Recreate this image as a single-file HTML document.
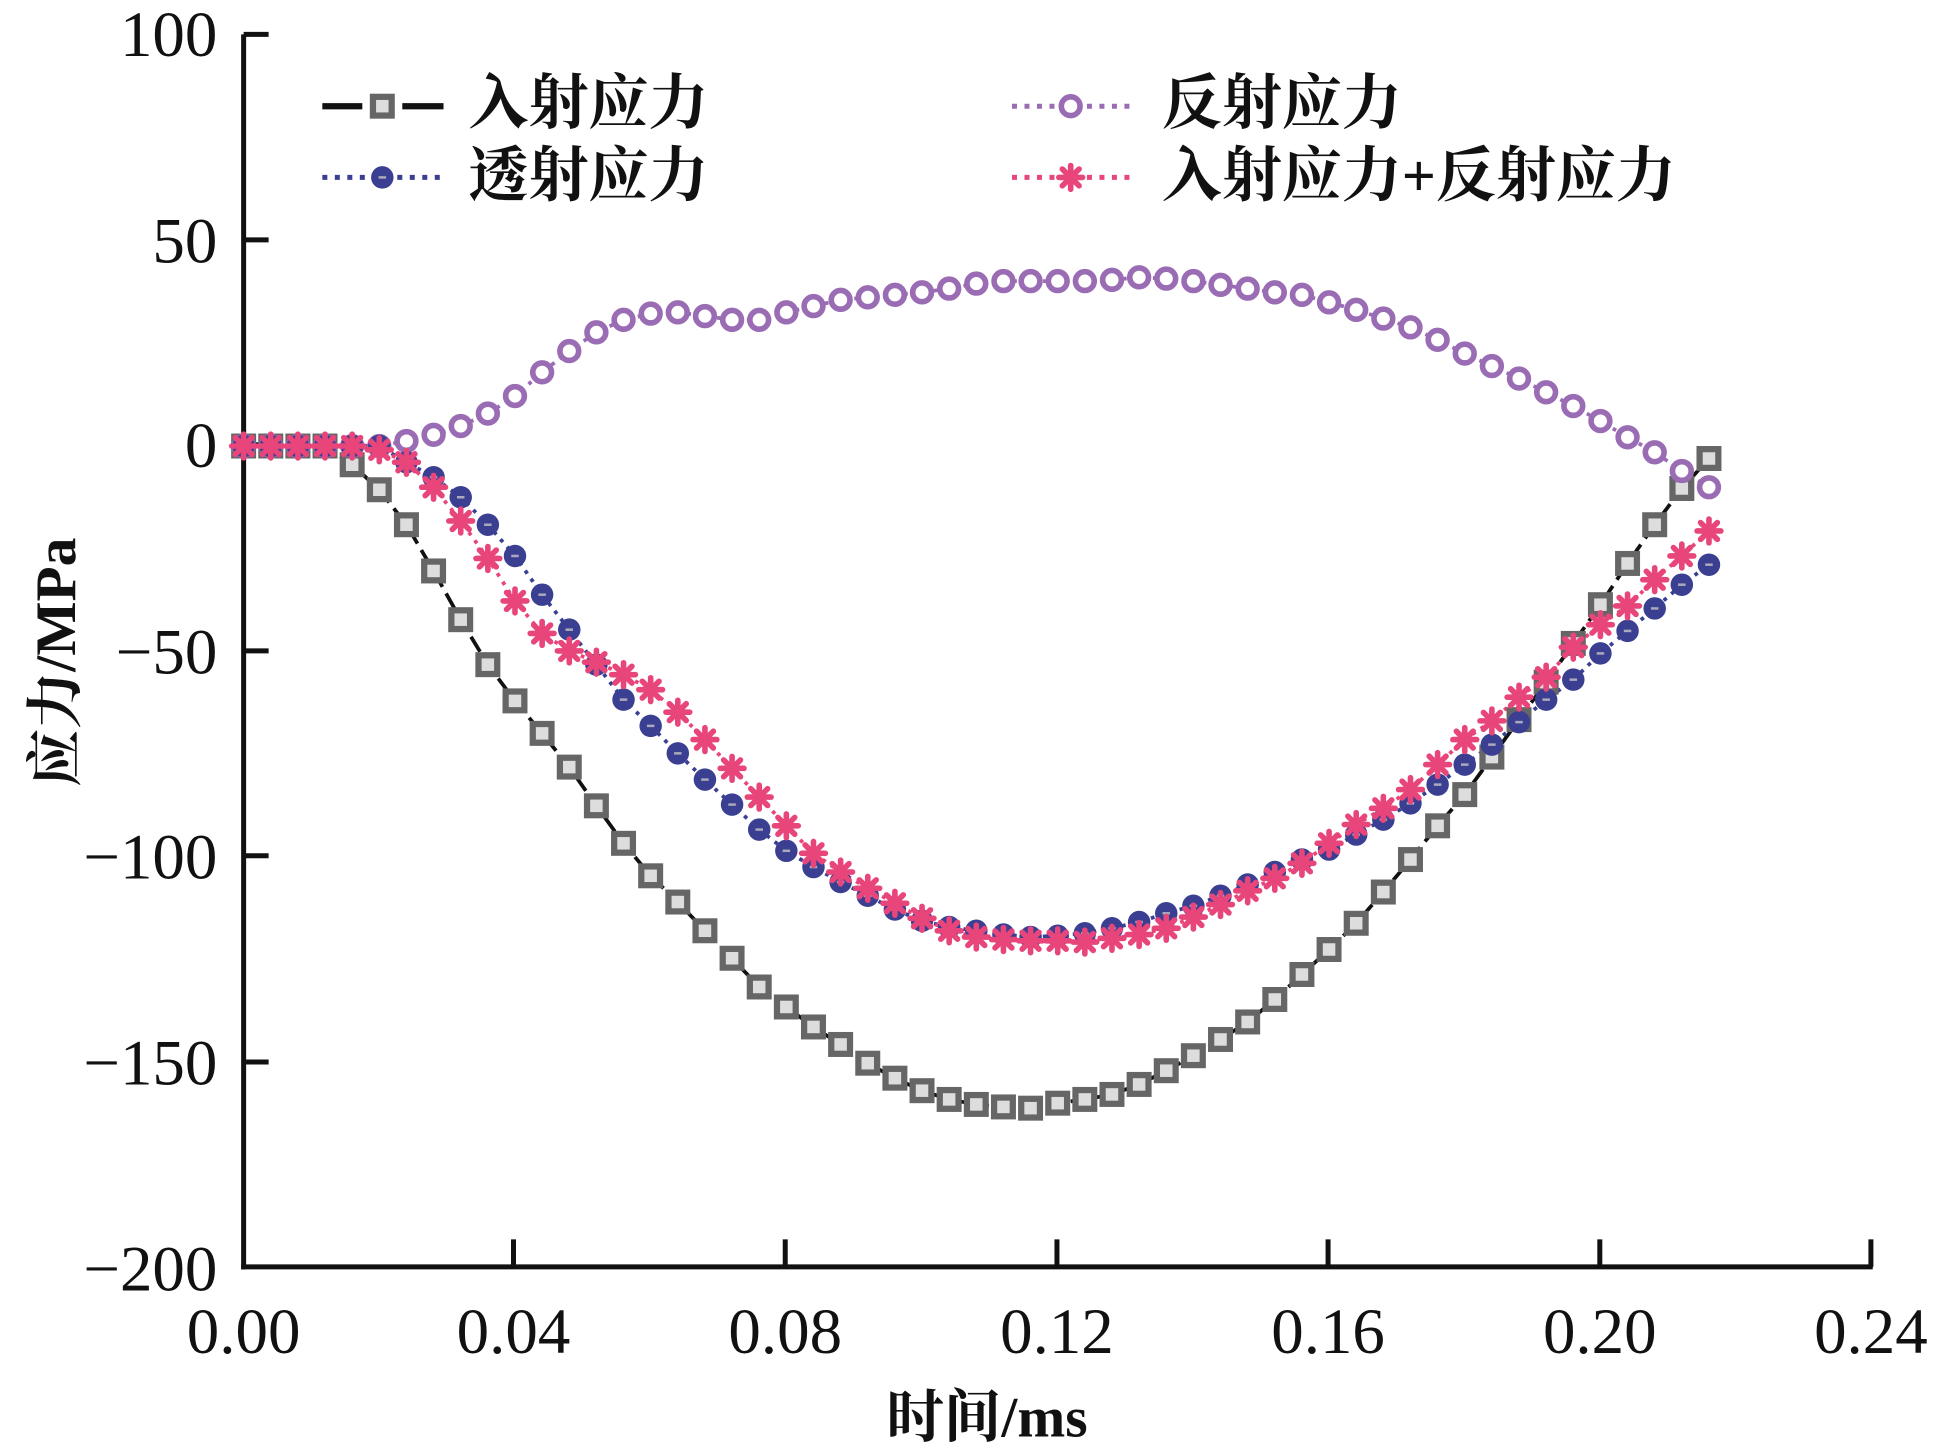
<!DOCTYPE html>
<html><head><meta charset="utf-8"><style>
html,body{margin:0;padding:0;background:#fff;}
svg{display:block;}
text{font-family:"Liberation Serif","Noto Serif CJK SC",serif;fill:#111;}
</style></head><body>
<svg id="s" width="1949" height="1446" viewBox="0 0 1560 1157.4" xmlns="http://www.w3.org/2000/svg">
<g stroke="#111" stroke-width="4" fill="none">
<line x1="195" y1="27.5" x2="195" y2="1016"/>
<line x1="193" y1="1014" x2="1499" y2="1014"/>
<line x1="195" y1="27.5" x2="215" y2="27.5"/>
<line x1="195" y1="192" x2="215" y2="192"/>
<line x1="195" y1="356" x2="215" y2="356"/>
<line x1="195" y1="521" x2="215" y2="521"/>
<line x1="195" y1="685" x2="215" y2="685"/>
<line x1="195" y1="850" x2="215" y2="850"/>
<line x1="411" y1="1014" x2="411" y2="992"/>
<line x1="628.5" y1="1014" x2="628.5" y2="992"/>
<line x1="846" y1="1014" x2="846" y2="992"/>
<line x1="1063" y1="1014" x2="1063" y2="992"/>
<line x1="1280.5" y1="1014" x2="1280.5" y2="992"/>
<line x1="1497.5" y1="1014" x2="1497.5" y2="992"/>
</g>
<g font-size="52" text-anchor="end">
<text x="174" y="45">100</text>
<text x="174" y="210">50</text>
<text x="174" y="374">0</text>
<text x="174" y="539">−50</text>
<text x="174" y="703">−100</text>
<text x="174" y="868">−150</text>
<text x="174" y="1033">−200</text>
</g>
<g font-size="52" text-anchor="middle">
<text x="195" y="1083">0.00</text>
<text x="411" y="1083">0.04</text>
<text x="628.5" y="1083">0.08</text>
<text x="846" y="1083">0.12</text>
<text x="1063" y="1083">0.16</text>
<text x="1280.5" y="1083">0.20</text>
<text x="1497.5" y="1083">0.24</text>
</g>
<text x="790" y="1150" font-size="46" text-anchor="middle" font-weight="bold">时间/ms</text>
<text transform="translate(60,530) rotate(-90)" font-size="46" text-anchor="middle" font-weight="bold">应力/MPa</text>
<g id="plot"></g>
<g id="leg" font-size="48" font-weight="bold">
<text x="375" y="99">入射应力</text>
<text x="375" y="157">透射应力</text>
<text x="930" y="99">反射应力</text>
<text x="930" y="157">入射应力+反射应力</text>
</g>
</svg>
<script>
var xs=[];for(var i=0;i<55;i++)xs.push(195+i*21.72);
var inc=[357,357,357,357,372,392,420,457,496,532,561,587,614,645,675,701,722,745,767,790,806,822,836,851,863,873,880,884,886,887,883,880,876,868,857,845,832,818,800,780,760,739,714,688,661,636,606,576,546,515,484,451,420,391,367];
var ref=[357,357,357,357,357,357,353,348,341,331,317,298,281,266,256,251,250,253,256,256,250,245,240,238,236,234,231,227,225,225,225,225,224,222,223,225,228,231,234,236,242,248,255,262,272,283,293,303,314,325,337,350,362,377,390];
var tra=[357,357,357,357,357,357,370,382,398,420,445,476,504,532,560,581,603,624,644,664,681,694,706,717,728,737,742,745,748,750,749,747,743,738,731,725,717,708,698,688,680,668,656,643,628,612,596,578,560,544,523,505,487,468,452];
var sum=[357,357,357,357,357,360,370,390,417,447,481,507,521,530,540,552,570,592,615,638,661,683,698,711,723,735,745,750,752,753,753,754,751,748,743,734,724,713,703,691,675,660,647,632,612,592,577,558,542,518,500,485,464,445,425];
var NS="http://www.w3.org/2000/svg",g=document.getElementById('plot'),lg=document.getElementById('leg');
function el(p,t,a){var e=document.createElementNS(NS,t);for(var k in a)e.setAttribute(k,a[k]);p.appendChild(e);return e;}
function pts(ys){return ys.map(function(y,i){return xs[i]+','+y}).join(' ');}
function sq(p,x,y){el(p,'rect',{x:x-7.5,y:y-7.5,width:15,height:15,fill:'#ddd',stroke:'#666','stroke-width':5});}
function oc(p,x,y){el(p,'circle',{cx:x,cy:y,r:7.5,fill:'#fff',stroke:'#9a6cb4','stroke-width':4.5});}
function bc(p,x,y){el(p,'circle',{cx:x,cy:y,r:9,fill:'#3a3f92'});el(p,'line',{x1:x-3,y1:y,x2:x+3,y2:y,stroke:'#aab','stroke-width':2});}
function st(p,x,y){var a=el(p,'g',{stroke:'#e8457a','stroke-width':4.5,'stroke-linecap':'round'});
 for(var k=0;k<4;k++){var an=k*Math.PI/4,dx=9.5*Math.cos(an),dy=9.5*Math.sin(an);el(a,'line',{x1:x-dx,y1:y-dy,x2:x+dx,y2:y+dy});}}
el(g,'polyline',{points:pts(inc),fill:'none',stroke:'#111','stroke-width':3,'stroke-dasharray':'14 6'});
el(g,'polyline',{points:pts(ref),fill:'none',stroke:'#9a6cb4','stroke-width':3,'stroke-dasharray':'3 5'});
el(g,'polyline',{points:pts(tra),fill:'none',stroke:'#3a3f92','stroke-width':3,'stroke-dasharray':'3 5'});
el(g,'polyline',{points:pts(sum),fill:'none',stroke:'#e8457a','stroke-width':3,'stroke-dasharray':'3 5'});
for(var i=0;i<55;i++){sq(g,xs[i],inc[i]);}
for(var i=0;i<55;i++){oc(g,xs[i],ref[i]);}
for(var i=0;i<55;i++){bc(g,xs[i],tra[i]);}
for(var i=0;i<55;i++){st(g,xs[i],sum[i]);}
el(lg,'line',{x1:258,y1:85,x2:290,y2:85,stroke:'#111','stroke-width':5});
el(lg,'line',{x1:322,y1:85,x2:355,y2:85,stroke:'#111','stroke-width':5});sq(lg,306,85);
el(lg,'line',{x1:258,y1:142,x2:355,y2:142,stroke:'#3a3f92','stroke-width':4,'stroke-dasharray':'4 6'});bc(lg,306,142);
el(lg,'line',{x1:810,y1:85,x2:905,y2:85,stroke:'#9a6cb4','stroke-width':4,'stroke-dasharray':'4 6'});oc(lg,857,85);
el(lg,'line',{x1:810,y1:142,x2:905,y2:142,stroke:'#e8457a','stroke-width':4,'stroke-dasharray':'4 6'});st(lg,857,142);
</script>
</body></html>
